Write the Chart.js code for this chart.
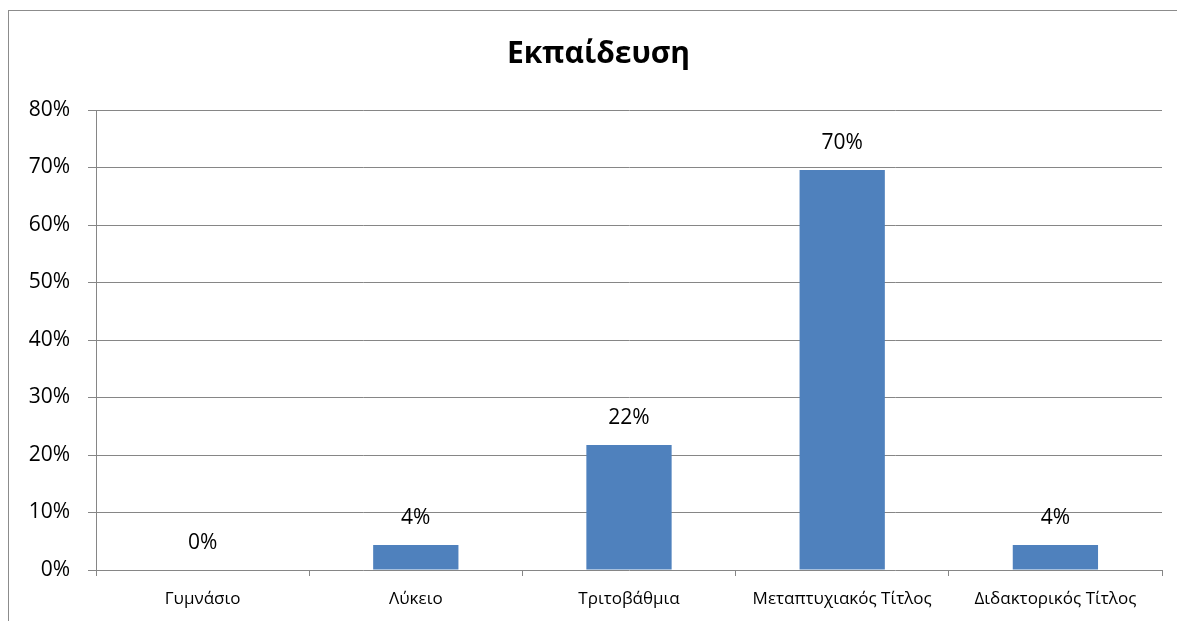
<!DOCTYPE html>
<html>
<head>
<meta charset="utf-8">
<script src="https://cdn.jsdelivr.net/npm/chart.js@4/dist/chart.umd.min.js"></script>
<style>
	html, body { margin: 0; padding: 0; background: #fff; }
	#wrap { position: relative; width: 1177px; height: 621px; }
	#frame { position: absolute; left: 8px; top: 10px; right: 0; bottom: 0; border-left: 1px solid #8c8c8c; border-top: 1px solid #8c8c8c; }
	#educationChart { position: absolute; left: 0; top: 0; }
</style>
</head>
<body>
<div id="wrap">
	<div id="frame"></div>
	<canvas id="educationChart" width="1177" height="621"></canvas>
</div>
<script>
var chartTitle = 'Εκπαίδευση';
var categories = ['Γυμνάσιο', 'Λύκειο', 'Τριτοβάθμια', 'Μεταπτυχιακός Τίτλος', 'Διδακτορικός Τίτλος'];
var percentValues = [0, 4.35, 21.74, 69.57, 4.35];
var tickValues = [0, 10, 20, 30, 40, 50, 60, 70, 80];

var fontFamily = "'Open Sans', 'Noto Sans', sans-serif";
var gridColor = '#868686';

// draws the % label above each bar
var valueLabels = {
	id: 'valueLabels',
	afterDatasetsDraw: function (chart) {
		var ctx = chart.ctx;
		var meta = chart.getDatasetMeta(0);
		ctx.save();
		ctx.font = '21px ' + fontFamily;
		ctx.fillStyle = '#000';
		ctx.textAlign = 'center';
		ctx.textBaseline = 'middle';
		meta.data.forEach(function (bar, i) {
			ctx.fillText(Math.round(percentValues[i]) + '%', bar.x, bar.y - 27);
		});
		ctx.restore();
	}
};

// title sits a bit right of the plot centre, like the original sheet
var sheetTitle = {
	id: 'sheetTitle',
	afterDraw: function (chart) {
		var ctx = chart.ctx;
		ctx.save();
		ctx.font = 'bold 30px ' + fontFamily;
		ctx.fillStyle = '#000';
		ctx.textAlign = 'center';
		ctx.textBaseline = 'middle';
		ctx.fillText(chartTitle, chart.width / 2 + 10, 54);
		ctx.restore();
	}
};

var educationCtx = document.getElementById('educationChart').getContext('2d');
var educationChart = new Chart(educationCtx, {
	type: 'bar',
	data: {
		labels: categories,
		datasets: [{
			data: percentValues,
			backgroundColor: '#4F81BD',
			borderWidth: 0,
			categoryPercentage: 1,
			barPercentage: 0.4
		}]
	},
	plugins: [valueLabels, sheetTitle],
	options: {
		responsive: false,
		animation: false,
		devicePixelRatio: 1,
		layout: { padding: { left: 0, right: 15, top: 110, bottom: 0 } },
		plugins: {
			legend: { display: false },
			tooltip: { enabled: false },
			title: { display: false }
		},
		scales: {
			x: {
				afterFit: function (scale) { scale.height = 51; },
				grid: { display: true, drawOnChartArea: false, drawTicks: true, tickLength: 6, color: gridColor, offset: true },
				border: { display: false },
				ticks: { color: '#000', font: { family: fontFamily, size: 17 }, padding: 13, maxRotation: 0, autoSkip: false }
			},
			y: {
				min: 0,
				max: 80,
				afterFit: function (scale) { scale.width = 96; },
				afterBuildTicks: function (scale) {
					scale.ticks = tickValues.map(function (v) { return { value: v }; });
				},
				grid: { color: gridColor, lineWidth: 1, tickLength: 8 },
				border: { display: true, color: gridColor },
				ticks: {
					color: '#000',
					font: { family: fontFamily, size: 21 },
					padding: 18,
					callback: function (value) { return value + '%'; }
				}
			}
		}
	}
});
</script>
</body>
</html>
